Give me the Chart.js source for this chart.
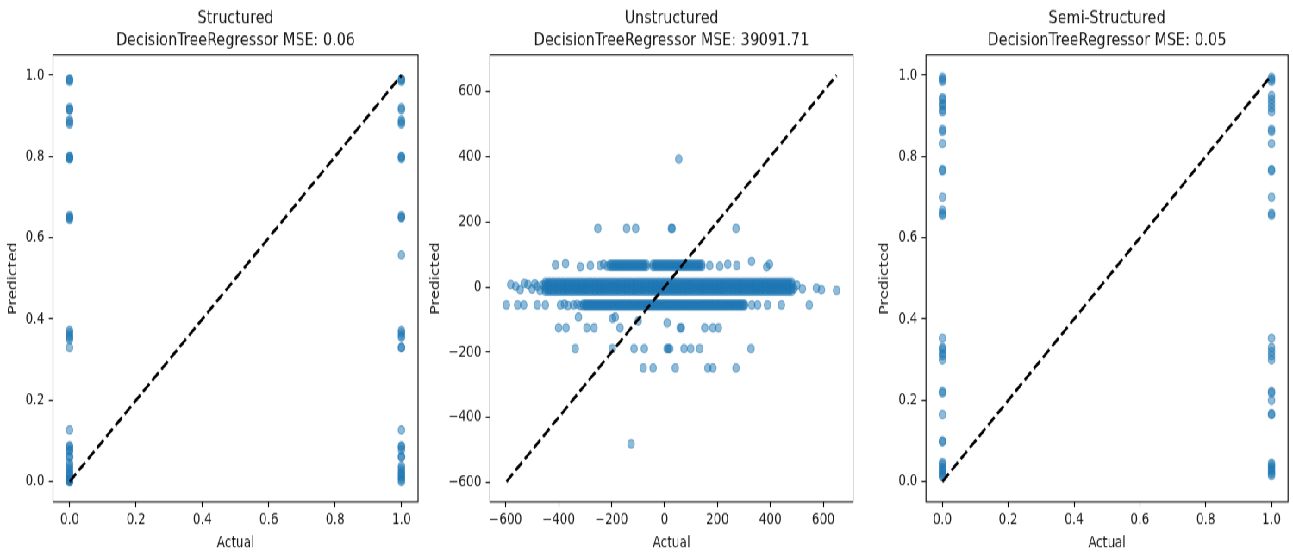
<!DOCTYPE html>
<html>
<head>
<meta charset="utf-8">
<script src="https://cdn.jsdelivr.net/npm/chart.js@4.4.1/dist/chart.umd.min.js"></script>
<style>
  html, body { margin: 0; padding: 0; background: #fff; overflow: hidden; }
  /* the source figure was 1500x500 and got stretched to 1293x554 */
  #figure { position: absolute; left: 0; top: 0; width: 1500px; height: 500px;
            transform: scale(0.862, 1.108); transform-origin: 0 0; }
  .panel { position: absolute; top: 0; }
</style>
</head>
<body>
<div id="figure">
  <canvas class="panel" id="structured" width="495" height="500" style="left:0"></canvas>
  <canvas class="panel" id="unstructured" width="505" height="500" style="left:495px"></canvas>
  <canvas class="panel" id="semiStructured" width="500" height="500" style="left:1000px"></canvas>
</div>
<script>
// ---- data ----
const unitTicks = [0, 0.2, 0.4, 0.6, 0.8, 1.0];
const unstructTicks = [-600, -400, -200, 0, 200, 400, 600];

// Structured: predicted values for actual = 0 and actual = 1
const structPredAt0 = [0.99, 0.99, 0.985, 0.92, 0.915, 0.915, 0.89, 0.885, 0.88, 0.80, 0.80, 0.795, 0.795,
  0.655, 0.65, 0.65, 0.645, 0.372, 0.367, 0.36, 0.355, 0.35, 0.33, 0.127, 0.088, 0.085, 0.078, 0.075,
  0.062, 0.06, 0.045, 0.038, 0.032, 0.025, 0.02, 0.015, 0.01, 0.005, 0.003, 0.0, 0.0];
const structPredAt1 = [0.99, 0.99, 0.985, 0.92, 0.915, 0.89, 0.885, 0.88, 0.80, 0.80, 0.795, 0.655, 0.65,
  0.65, 0.558, 0.372, 0.367, 0.36, 0.355, 0.33, 0.33, 0.127, 0.088, 0.085, 0.078, 0.062, 0.06, 0.038,
  0.032, 0.025, 0.02, 0.015, 0.01, 0.005, 0.0];

// Semi-Structured
const semiPredAt0 = [0.995, 0.99, 0.985, 0.945, 0.94, 0.93, 0.925, 0.915, 0.91, 0.867, 0.862, 0.832,
  0.768, 0.765, 0.70, 0.668, 0.66, 0.655, 0.353, 0.33, 0.325, 0.315, 0.31, 0.30, 0.222, 0.218, 0.165,
  0.1, 0.098, 0.047, 0.042, 0.035, 0.03, 0.025, 0.02, 0.015, 0.012];
const semiPredAt1 = [0.995, 0.99, 0.985, 0.95, 0.94, 0.93, 0.92, 0.91, 0.867, 0.862, 0.832, 0.768, 0.765,
  0.70, 0.66, 0.655, 0.353, 0.33, 0.32, 0.31, 0.30, 0.222, 0.218, 0.20, 0.167, 0.165, 0.045, 0.04,
  0.035, 0.03, 0.025, 0.02, 0.015];

// Unstructured: the tree predicts a few leaf values; dense runs of actual values share them
const zeroBandLevels = [-13, -6, 1, 8, 15];
const zeroBandX = [-450, -440, -430, -420, -410, -400, -390, -380, -370, -360, -350, -340, -330, -320,
  -310, -300, -290, -280, -270, -260, -250, -240, -230, -220, -210, -200, -190, -180, -170, -160, -150,
  -140, -130, -120, -110, -100, -90, -80, -70, -60, -50, -40, -30, -20, -10, 0, 10, 20, 30, 40, 50, 60,
  70, 80, 90, 100, 110, 120, 130, 140, 150, 160, 170, 180, 190, 200, 210, 220, 230, 240, 250, 260, 270,
  280, 290, 300, 310, 320, 330, 340, 350, 360, 370, 380, 390, 400, 410, 420, 430, 440, 450, 460, 470, 480];
const zeroBandSparse = [[-581, 8], [-562, 2], [-545, -8], [-530, 12], [-516, 8], [-500, -6], [-490, 10],
  [-480, 2], [-470, -10], [-460, 6], [490, -4], [500, 6], [521, -5], [574, -3], [593, -8], [650, -10]];

const minus55Levels = [-58, -52];
const minus55X = [-306, -298, -290, -282, -274, -266, -258, -250, -242, -234, -226, -218, -210, -202,
  -194, -186, -178, -170, -162, -154, -146, -138, -130, -122, -114, -106, -98, -90, -82, -74, -66, -58,
  -50, -42, -34, -26, -18, -10, -2, 6, 14, 22, 30, 38, 46, 54, 62, 70, 78, 86, 94, 102, 110, 118, 126,
  134, 142, 150, 158, 166, 174, 182, 190, 198, 206, 214, 222, 230, 238, 246, 254, 262, 270, 278, 286,
  294, 302];
const minus55Sparse = [[-597, -55], [-555, -55], [-532, -55], [-480, -55], [-450, -55], [-393, -55],
  [-378, -52], [-365, -57], [-344, -55], [-330, -53], [-318, -57],
  [330, -55], [352, -55], [389, -55], [442, -55], [547, -55]];

const plus65Levels = [63, 70];
const plus65X = [-205, -197, -189, -181, -173, -165, -157, -149, -141, -133, -125, -117, -109, -101, -93,
  -85, -77, -69, -43, -35, -27, -19, -11, -3, 5, 13, 21, 29, 37, 45, 53, 61, 69, 77, 85, 93, 101, 109,
  117, 125, 133, 141];
const plus65Sparse = [[-412, 68], [-374, 72], [-318, 62], [-280, 66], [-243, 66], [-230, 70], [-216, 64],
  [171, 66], [209, 64], [239, 70], [273, 66], [329, 79], [386, 62], [397, 70]];

const unstructStray = [
  [54, 393],
  [-252, 180], [-143, 180], [-109, 180], [26, 180], [29, 180], [270, 180],
  [-325, -92], [-196, -96], [-186, -92], [-99, -104], [10, -110],
  [-400, -125], [-372, -125], [-293, -125], [-266, -125], [-168, -125], [59, -125], [64, -125],
  [152, -125], [183, -125], [204, -125],
  [-337, -189], [-197, -189], [-115, -189], [-76, -189], [10, -189], [15, -189], [20, -189], [74, -189],
  [99, -189], [133, -189], [327, -189],
  [-80, -248], [-43, -248], [41, -248], [164, -248], [183, -248], [270, -248],
  [-126, -481]
];

// diagonal reference lines: [min(actual), max(actual)]
const structLine = [0, 1];
const unstructLine = [-597, 650];
const semiLine = [0, 1];

// ---- styling ----
const FONT = 'DejaVu Sans';
const TEXT = '#1a1a1a';
const POINT = 'rgba(31, 119, 180, 0.5)';

const frame = {
  id: 'frame',
  afterDatasetsDraw(chart) {
    const { ctx, chartArea: a } = chart;
    ctx.save();
    ctx.strokeStyle = '#000';
    ctx.lineWidth = 1.1;
    ctx.strokeRect(a.left, a.top, a.right - a.left, a.bottom - a.top);
    ctx.restore();
  }
};

// matplotlib-style autoscale: data limits plus 5% margin
function autoRange(values) {
  const lo = Math.min(...values), hi = Math.max(...values);
  const m = (hi - lo) * 0.05;
  return [lo - m, hi + m];
}

const unitFmt = v => v.toFixed(1);
const intFmt = v => String(v).replace('-', '\u2212');

function makeAxis(pos, range, tickValues, fmt, label, fitSize, titlePad) {
  const left = pos === 'left';
  return {
    type: 'linear',
    position: pos,
    min: range[0],
    max: range[1],
    afterBuildTicks: s => { s.ticks = tickValues.map(v => ({ value: v })); },
    afterFit: s => { if (left) s.width = fitSize; else s.height = fitSize; },
    grid: { drawOnChartArea: false, drawTicks: true, tickLength: 4.9, tickWidth: 1.1, tickColor: '#000', color: '#000' },
    border: { display: false },
    ticks: {
      color: TEXT, padding: left ? 5 : 3, autoSkip: false, maxRotation: 0,
      font: { family: FONT, size: 13.9 },
      callback: v => fmt(v)
    },
    title: {
      display: true, text: label, color: TEXT,
      font: { family: FONT, size: 13.9, lineHeight: 1.2 },
      padding: left ? { top: titlePad, bottom: 0 } : { top: 0, bottom: titlePad }
    }
  };
}

function buildChart(id, p) {
  const xr = autoRange(p.points.map(d => d.x).concat(p.line));
  const yr = autoRange(p.points.map(d => d.y).concat(p.line));
  new Chart(document.getElementById(id), {
    type: 'scatter',
    data: {
      datasets: [
        {
          data: [{ x: p.line[0], y: p.line[0] }, { x: p.line[1], y: p.line[1] }],
          showLine: true, borderColor: '#000', borderWidth: 2.8, borderDash: [10.3, 4.4],
          pointRadius: 0, order: 0
        },
        {
          data: p.points, backgroundColor: POINT, borderColor: POINT,
          borderWidth: 1.2, pointRadius: 3.8, order: 1
        }
      ]
    },
    options: {
      responsive: false,
      animation: false,
      layout: { padding: { left: 0, right: p.padRight, top: 0, bottom: 0 } },
      plugins: {
        legend: { display: false },
        tooltip: { enabled: false },
        title: {
          display: true, fullSize: false, color: TEXT,
          text: [p.name, 'DecisionTreeRegressor MSE: ' + p.mse],
          font: { family: FONT, size: 16.67, weight: 'normal', lineHeight: '20.8px' },
          padding: { top: 5.8, bottom: 2.2 }
        }
      },
      scales: {
        x: makeAxis('bottom', xr, p.ticks, p.fmt, 'Actual', 47, 1.7),
        y: makeAxis('left', yr, p.ticks, p.fmt, 'Predicted', p.axisLeft, p.labelPad)
      }
    },
    plugins: [frame]
  });
}

const pairs = arr => arr.map(([x, y]) => ({ x, y }));
const column = (x, arr) => arr.map(y => ({ x, y }));
const band = (xs, levels) => levels.flatMap(y => xs.map(x => ({ x, y })));

buildChart('structured', {
  name: 'Structured', mse: '0.06',
  points: column(0, structPredAt0).concat(column(1, structPredAt1)),
  line: structLine, ticks: unitTicks, fmt: unitFmt,
  axisLeft: 61.5, padRight: 10, labelPad: 7.4
});

buildChart('unstructured', {
  name: 'Unstructured', mse: '39091.71',
  points: band(zeroBandX, zeroBandLevels).concat(
    pairs(zeroBandSparse),
    band(plus65X, plus65Levels), pairs(plus65Sparse),
    band(minus55X, minus55Levels), pairs(minus55Sparse),
    pairs(unstructStray)),
  line: unstructLine, ticks: unstructTicks, fmt: intFmt,
  axisLeft: 73.4, padRight: 10.4, labelPad: 2.5
});

buildChart('semiStructured', {
  name: 'Semi-Structured', mse: '0.05',
  points: column(0, semiPredAt0).concat(column(1, semiPredAt1)),
  line: semiLine, ticks: unitTicks, fmt: unitFmt,
  axisLeft: 74.2, padRight: 5.8, labelPad: 18.4
});
</script>
</body>
</html>
